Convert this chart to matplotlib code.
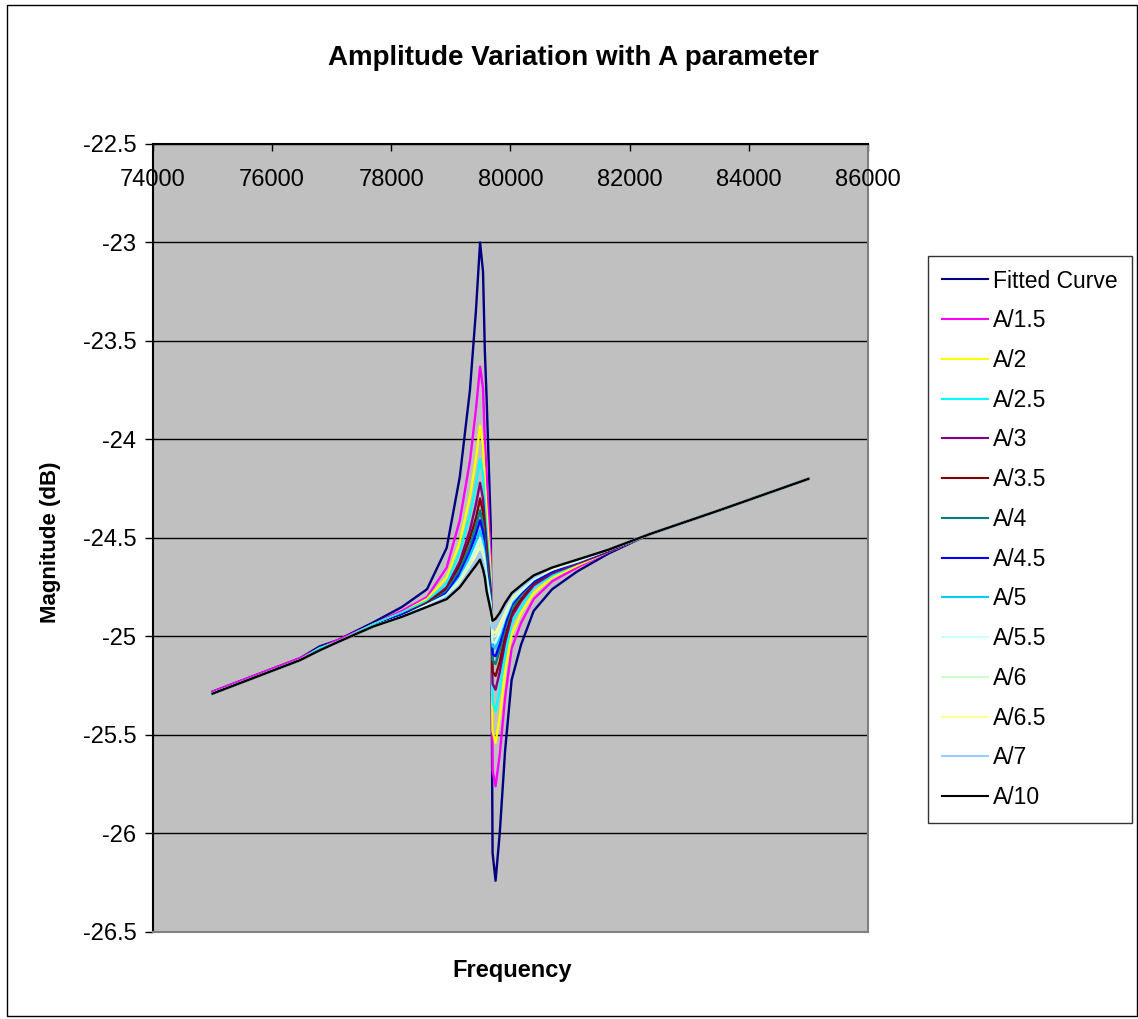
import matplotlib
matplotlib.use("Agg")
from matplotlib import pyplot as plt
from matplotlib.patches import Rectangle

plt.rcParams['font.family'] = ['Liberation Sans', 'DejaVu Sans']

# frequency points (Hz)
freq = [75000, 76470, 76800, 77090, 77690, 78180, 78600, 78930, 79150, 79320,
        79420, 79490, 79540, 79570, 79600, 79670, 79700, 79750, 79820, 79910,
        80020, 80180, 80390, 80700, 81120, 81640, 82340, 83500, 85000]

fitted = [-25.28, -25.11, -25.05, -25.02, -24.93, -24.85, -24.76, -24.55, -24.19, -23.75,
          -23.35, -23.00, -23.15, -23.55, -23.79, -24.45, -26.10, -26.24, -26.00, -25.58,
          -25.22, -25.04, -24.87, -24.76, -24.67, -24.58, -24.48, -24.36, -24.20]
a_1_5 = [-25.28, -25.11, -25.06, -25.02, -24.94, -24.87, -24.80, -24.65, -24.41, -24.11,
         -23.85, -23.63, -23.74, -24.00, -24.17, -24.61, -25.68, -25.76, -25.60, -25.31,
         -25.06, -24.93, -24.81, -24.72, -24.65, -24.57, -24.48, -24.36, -24.20]
a_2 = [-25.29, -25.12, -25.06, -25.03, -24.94, -24.88, -24.81, -24.70, -24.52, -24.29,
       -24.10, -23.93, -24.03, -24.22, -24.36, -24.69, -25.48, -25.54, -25.41, -25.18,
       -24.99, -24.88, -24.78, -24.70, -24.64, -24.57, -24.48, -24.36, -24.20]
a_2_5 = [-25.29, -25.12, -25.06, -25.03, -24.94, -24.88, -24.82, -24.73, -24.57, -24.38,
         -24.23, -24.10, -24.18, -24.33, -24.46, -24.74, -25.33, -25.38, -25.27, -25.09,
         -24.93, -24.85, -24.75, -24.69, -24.63, -24.57, -24.48, -24.36, -24.20]
a_3 = [-25.29, -25.12, -25.07, -25.03, -24.95, -24.89, -24.83, -24.75, -24.62, -24.46,
       -24.33, -24.22, -24.30, -24.42, -24.53, -24.77, -25.24, -25.27, -25.18, -25.03,
       -24.90, -24.82, -24.74, -24.68, -24.63, -24.57, -24.48, -24.36, -24.20]
a_3_5 = [-25.29, -25.12, -25.07, -25.03, -24.95, -24.89, -24.83, -24.76, -24.64, -24.50,
         -24.40, -24.30, -24.37, -24.48, -24.58, -24.79, -25.18, -25.20, -25.13, -25.00,
         -24.88, -24.81, -24.73, -24.67, -24.62, -24.56, -24.48, -24.36, -24.20]
a_4 = [-25.29, -25.12, -25.07, -25.03, -24.95, -24.89, -24.84, -24.77, -24.66, -24.54,
       -24.44, -24.36, -24.43, -24.52, -24.62, -24.81, -25.12, -25.14, -25.07, -24.96,
       -24.86, -24.79, -24.72, -24.67, -24.62, -24.56, -24.48, -24.36, -24.20]
a_4_5 = [-25.29, -25.12, -25.07, -25.03, -24.95, -24.89, -24.84, -24.78, -24.68, -24.57,
         -24.48, -24.41, -24.47, -24.56, -24.65, -24.82, -25.09, -25.10, -25.04, -24.94,
         -24.84, -24.78, -24.72, -24.67, -24.62, -24.56, -24.48, -24.36, -24.20]
a_5 = [-25.29, -25.12, -25.07, -25.03, -24.95, -24.90, -24.84, -24.79, -24.70, -24.59,
       -24.52, -24.46, -24.52, -24.59, -24.68, -24.83, -25.05, -25.06, -25.00, -24.91,
       -24.83, -24.77, -24.71, -24.66, -24.62, -24.56, -24.48, -24.36, -24.20]
a_5_5 = [-25.29, -25.12, -25.07, -25.03, -24.95, -24.90, -24.84, -24.79, -24.71, -24.62,
         -24.55, -24.50, -24.56, -24.62, -24.70, -24.84, -25.03, -25.03, -24.98, -24.90,
         -24.82, -24.77, -24.71, -24.66, -24.62, -24.56, -24.48, -24.36, -24.20]
a_6 = [-25.29, -25.12, -25.07, -25.03, -24.95, -24.90, -24.85, -24.80, -24.72, -24.63,
       -24.57, -24.52, -24.58, -24.64, -24.72, -24.85, -25.00, -25.00, -24.96, -24.88,
       -24.81, -24.76, -24.70, -24.66, -24.61, -24.56, -24.48, -24.36, -24.20]
a_6_5 = [-25.29, -25.12, -25.07, -25.03, -24.95, -24.90, -24.85, -24.80, -24.73, -24.65,
         -24.59, -24.55, -24.60, -24.66, -24.73, -24.86, -24.98, -24.98, -24.94, -24.87,
         -24.80, -24.75, -24.70, -24.66, -24.61, -24.56, -24.48, -24.36, -24.20]
a_7 = [-25.29, -25.12, -25.07, -25.03, -24.95, -24.90, -24.85, -24.80, -24.74, -24.66,
       -24.61, -24.57, -24.62, -24.67, -24.75, -24.86, -24.96, -24.95, -24.91, -24.85,
       -24.79, -24.75, -24.70, -24.65, -24.61, -24.56, -24.48, -24.36, -24.20]
a_10 = [-25.29, -25.12, -25.07, -25.03, -24.95, -24.90, -24.85, -24.81, -24.75, -24.68,
        -24.64, -24.61, -24.66, -24.70, -24.77, -24.87, -24.92, -24.91, -24.88, -24.83,
        -24.78, -24.74, -24.69, -24.65, -24.61, -24.56, -24.48, -24.36, -24.20]

series = [fitted, a_1_5, a_2, a_2_5, a_3, a_3_5, a_4, a_4_5, a_5, a_5_5, a_6, a_6_5, a_7, a_10]
labels = ['Fitted Curve', 'A/1.5', 'A/2', 'A/2.5', 'A/3', 'A/3.5', 'A/4', 'A/4.5',
          'A/5', 'A/5.5', 'A/6', 'A/6.5', 'A/7', 'A/10']
colors = ['#000080', '#FF00FF', '#FFFF00', '#00FFFF', '#800080', '#800000', '#008080',
          '#0000FF', '#00CCFF', '#CCFFFF', '#CCFFCC', '#FFFF99', '#99CCFF', '#000000']

x_ticks = [74000, 76000, 78000, 80000, 82000, 84000, 86000]
y_ticks = [-22.5, -23, -23.5, -24, -24.5, -25, -25.5, -26, -26.5]
y_tick_labels = ['-22.5', '-23', '-23.5', '-24', '-24.5', '-25', '-25.5', '-26', '-26.5']

fig = plt.figure(figsize=(11.38, 10.19), dpi=100)
ax = fig.add_axes([0.1344, 0.0854, 0.6283, 0.7733])
ax.set_facecolor('#C0C0C0')

lines = []
for ys, lab, col in zip(series, labels, colors):
    ln, = ax.plot(freq, ys, color=col, lw=1.7, label=lab)
    lines.append(ln)

ax.set_xlim(74000, 86000)
ax.set_ylim(-26.5, -22.5)
ax.set_yticks(y_ticks)
ax.set_yticklabels(y_tick_labels, fontsize=17)
ax.set_xticks(x_ticks)
ax.tick_params(axis='y', direction='out', length=6, width=1, pad=6)
ax.tick_params(axis='x', direction='in', length=5, width=1, top=True, bottom=False,
               labeltop=False, labelbottom=False)
# x labels sit just under the top axis, inside the plot
for xv in x_ticks:
    ax.annotate(str(xv), (xv, 1), xycoords=('data', 'axes fraction'),
                xytext=(0, -25), textcoords='offset pixels',
                ha='center', va='top', fontsize=17)

ax.grid(True, axis='y', color='black', lw=1)
ax.set_axisbelow(True)
ax.spines['left'].set_color('black')
ax.spines['top'].set_color('black')
ax.spines['right'].set_color('#808080')
ax.spines['bottom'].set_color('#808080')
for s in ax.spines.values():
    s.set_linewidth(1.5)

fig.text(0.5035, 0.943, 'Amplitude Variation with A parameter', ha='center', va='center',
         fontsize=20, fontweight='bold')
fig.text(0.45, 0.048, 'Frequency', ha='center', va='center', fontsize=17, fontweight='bold')
fig.text(0.044, 0.468, 'Magnitude (dB)', ha='center', va='center', rotation=90,
         fontsize=16, fontweight='bold')

leg = fig.legend(handles=lines, loc='upper left', bbox_to_anchor=(0.8155, 0.749),
                 fontsize=16.5, frameon=True, fancybox=False, edgecolor='black',
                 handlelength=2.0, handletextpad=0.25, labelspacing=0.73,
                 borderpad=0.6, borderaxespad=0)
leg.get_frame().set_linewidth(1)
for h in leg.get_lines():
    h.set_linewidth(1.5)

fig.patches.append(Rectangle((0.006, 0.003), 0.993, 0.992, transform=fig.transFigure,
                             fill=False, edgecolor='black', lw=1))

plt.savefig('out.png', dpi=100)
